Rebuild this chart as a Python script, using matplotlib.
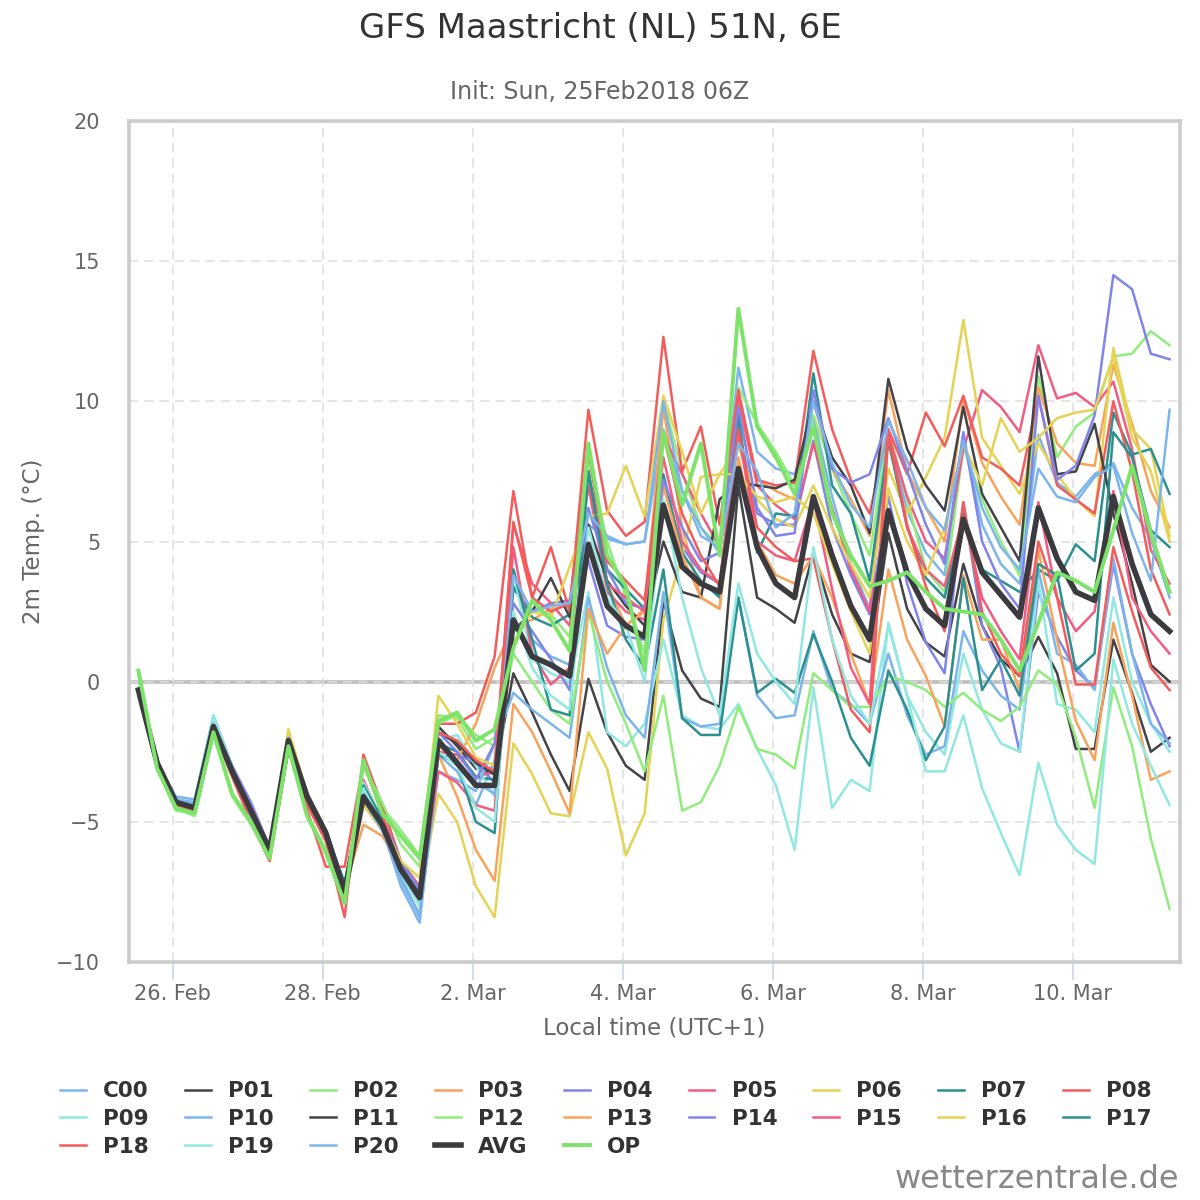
import matplotlib
matplotlib.use("Agg")
import matplotlib.pyplot as plt
import numpy as np

# 2m temperature, GFS ensemble, 6-hourly from 25 Feb 13h local (56 steps)
C00 = [-0.4, -2.9, -4.1, -4.2, -1.2, -3.0, -4.5, -5.9, -2.0, -4.0, -5.4, -7.4, -3.8, -5.2, -7.3, -8.6,
       -2.6, -3.2, -4.4, -2.8, 4.0, 1.5, 0.9, 0.6, 5.6, 5.1, 4.9, 5.0, 9.0, 6.8, 5.2, 4.8,
       11.2, 8.2, 7.6, 7.4, 9.4, 6.6, 4.2, 2.6, 8.9, 6.1, 4.6, 3.8, 8.6, 5.6, 4.2, 3.5,
       8.8, 7.1, 6.6, 7.4, 7.8, 6.2, 5.1, 3.0]
P01 = [-0.3, -2.8, -4.4, -4.6, -1.5, -3.2, -4.6, -6.0, -2.1, -4.1, -5.3, -7.4, -4.2, -5.0, -6.6, -7.6,
       -1.6, -2.3, -3.1, -3.3, 0.3, -1.1, -2.6, -3.9, 0.1, -1.8, -3.0, -3.5, 2.9, 0.4, -0.6, -0.9,
       7.0, 3.0, 2.6, 2.1, 4.6, 2.4, 1.0, 0.7, 5.3, 2.6, 1.4, 0.9, 4.2, 2.0, 0.8, 0.2,
       1.6, 0.3, -2.4, -2.4, 1.5, -0.4, -2.5, -2.0]
P02 = [0.3, -3.0, -4.5, -4.8, -1.9, -4.1, -5.1, -6.3, -2.4, -4.7, -6.0, -7.8, -3.0, -4.5, -5.3, -6.2,
       -1.2, -1.3, -2.4, -2.0, 1.4, 2.6, 2.4, 1.6, 7.9, 5.0, 3.0, 1.0, 10.0, 7.5, 5.5, 4.8,
       10.5, 9.2, 8.2, 7.0, 9.5, 7.6, 6.0, 4.5, 9.0, 6.5, 4.0, 3.2, 8.4, 6.5, 5.0, 3.8,
       10.9, 8.0, 9.1, 9.6, 11.6, 11.7, 12.5, 12.0]
P03 = [-0.4, -3.0, -4.3, -4.5, -1.5, -3.2, -4.6, -6.1, -2.0, -4.2, -5.4, -7.6, -4.3, -5.2, -6.6, -7.5,
       -2.3, -2.8, -1.5, 0.5, 2.0, 2.2, 2.6, 2.7, 7.5, 3.5, 2.0, 2.6, 9.8, 5.5, 3.0, 2.6,
       9.9, 7.2, 6.8, 6.5, 10.0, 7.6, 6.5, 5.2, 10.4, 7.5, 6.2, 5.0, 10.1, 7.8, 6.6, 5.6,
       10.5, 8.5, 7.8, 7.7, 11.3, 9.2, 6.8, 5.5]
P04 = [-0.5, -3.1, -4.2, -4.4, -1.6, -3.0, -4.3, -5.9, -2.0, -4.0, -5.3, -7.2, -3.7, -4.9, -6.5, -7.5,
       -2.7, -2.6, -2.9, -3.6, 3.3, 2.5, 2.8, 2.9, 4.3, 2.0, 1.6, 1.5, 7.0, 4.8, 3.9, 3.5,
       9.0, 6.0, 5.6, 5.6, 8.6, 5.5, 3.8, 2.4, 6.6, 3.5, 1.4, 0.3, 6.4, 2.0, 0.5, -2.5,
       3.2, 1.6, 0.4, -0.2, 4.2, 1.0, -0.8, -2.3]
P05 = [-0.3, -2.9, -4.3, -4.5, -1.7, -3.3, -4.8, -6.2, -2.2, -4.3, -5.6, -7.8, -3.5, -5.0, -6.9, -7.8,
       -2.5, -2.6, -3.4, -3.2, 5.6, 3.5, 2.8, 2.0, 7.0, 3.2, 2.5, 2.2, 8.8, 7.4, 6.0, 4.8,
       10.2, 7.0, 6.3, 5.8, 8.5, 6.2, 4.0, 2.5, 8.8, 6.6, 5.0, 4.4, 8.3, 10.4, 9.8, 8.9,
       12.0, 10.1, 10.3, 9.8, 10.7, 8.3, 4.7, 3.5]
P06 = [-0.4, -3.0, -4.4, -4.6, -1.6, -3.1, -4.5, -6.0, -1.8, -4.2, -5.5, -7.5, -4.4, -5.3, -6.8, -7.7,
       -4.0, -5.0, -7.3, -8.4, -2.2, -3.3, -4.7, -4.8, -1.8, -3.1, -6.2, -4.7, 2.2, 4.5, 7.3, 7.4,
       8.4, 6.5, 5.8, 5.5, 7.0, 5.5, 4.2, 3.0, 7.6, 6.0, 7.3, 8.7, 12.9, 8.7, 7.7, 6.7,
       8.5, 7.4, 6.5, 5.9, 11.9, 9.0, 8.3, 5.2]
P07 = [-0.3, -3.0, -4.3, -4.4, -1.5, -3.2, -4.6, -6.0, -2.1, -4.1, -5.4, -7.2, -4.0, -5.1, -6.7, -7.7,
       -2.2, -2.5, -3.4, -3.5, 3.4, 2.3, 2.0, 2.4, 7.5, 4.0, 3.3, 2.6, 7.4, 4.6, 3.6, 3.0,
       9.5, 4.6, 6.0, 5.9, 11.0, 7.0, 6.0, 3.6, 8.6, 5.5, 3.7, 3.0, 6.0, 4.0, 3.6, 3.2,
       4.0, 3.6, 4.9, 4.3, 9.6, 8.1, 8.3, 6.7]
P08 = [-0.4, -3.0, -4.4, -4.6, -1.6, -3.3, -4.9, -6.3, -2.3, -4.4, -5.7, -8.4, -2.6, -4.4, -6.4, -7.3,
       -1.5, -1.5, -1.1, 0.9, 6.8, 3.0, 4.8, 2.5, 9.7, 6.1, 5.2, 5.7, 12.3, 7.5, 9.1, 5.6,
       10.4, 7.2, 7.0, 7.1, 11.8, 9.0, 7.2, 6.0, 9.0, 7.4, 9.6, 8.4, 10.2, 8.0, 7.6, 7.0,
       10.2, 7.0, 6.5, 6.0, 10.0, 7.5, 4.0, 2.4]
P09 = [-0.2, -2.9, -4.2, -4.3, -1.2, -3.1, -4.6, -6.0, -2.1, -4.1, -5.4, -7.3, -3.6, -4.9, -6.6, -7.8,
       -2.1, -1.9, -3.0, -4.1, 3.9, 0.8, 0.3, 0.0, 3.2, -1.8, -2.3, -1.5, 1.5, -1.2, -1.6, -1.7,
       -0.8, -2.4, -3.7, -6.0, -0.2, -4.5, -3.5, -3.9, 2.1, -0.5, -1.8, -2.6, 1.0, -1.0, -2.2, -2.5,
       3.6, -0.8, -1.0, -1.8, 3.0, 0.0, -1.5, -2.5]
P10 = [-0.4, -3.0, -4.2, -4.3, -1.4, -3.1, -4.5, -5.9, -2.0, -4.0, -5.5, -7.6, -3.9, -5.3, -7.1, -8.4,
       -3.2, -3.5, -3.9, -2.2, -0.4, -1.0, -1.5, -2.0, 3.0, 0.5, -1.2, -2.0, 3.2, -1.3, -1.6, -1.5,
       3.0, -0.5, -1.3, -1.2, 1.8, -0.3, -0.8, -1.5, 1.0, -1.2, -2.6, -2.3, 1.8, 0.4, -0.5, -1.0,
       4.0, 1.0, 0.6, -0.3, 4.4, 1.0, -1.5, -2.2]
P11 = [-0.3, -3.0, -4.3, -4.5, -1.6, -3.2, -4.6, -6.1, -2.0, -4.1, -5.4, -7.3, -4.0, -5.2, -6.8, -7.8,
       -1.8, -2.2, -2.9, -3.3, 1.8, 2.5, 3.7, 2.3, 5.6, 3.6, 2.7, 2.0, 5.0, 3.2, 3.0, 6.5,
       7.1, 7.0, 6.9, 7.2, 10.0, 8.0, 7.0, 5.3, 10.8, 8.3, 7.0, 6.1, 9.8, 6.7, 5.5, 4.3,
       11.6, 7.4, 7.5, 9.2, 6.0, 3.5, 0.6, 0.0]
P12 = [0.2, -3.1, -4.6, -4.7, -1.8, -4.0, -5.0, -6.2, -2.4, -4.8, -6.0, -7.8, -3.0, -4.3, -5.8, -6.6,
       -1.5, -1.2, -1.9, -2.3, 1.0, 0.0, -1.0, -1.5, 2.5, 0.0, -1.5, -3.2, -0.5, -4.6, -4.3, -3.0,
       -0.9, -2.4, -2.6, -3.1, 0.3, -0.3, -0.9, -0.9, 0.2, 0.0, -0.3, -0.9, -0.4, -1.0, -1.4, -0.9,
       0.4, -0.1, -2.0, -4.5, -0.2, -2.3, -5.6, -8.1]
P13 = [-0.4, -2.9, -4.3, -4.5, -1.6, -3.2, -4.6, -6.0, -2.0, -4.0, -5.3, -7.4, -5.1, -5.5, -6.6, -7.6,
       -2.6, -4.1, -6.0, -7.1, -0.8, -1.8, -3.2, -4.7, 2.6, 1.0, 2.0, 2.5, 7.0, 4.5, 3.0, 2.6,
       8.0, 5.0, 3.8, 3.5, 4.5, 3.0, 1.0, -0.8, 4.0, 1.5, 0.2, -1.6, 3.8, 1.5, 1.5, -0.3,
       4.7, 1.5, -1.4, -2.8, 2.1, -0.5, -3.5, -3.2]
P14 = [-0.4, -3.0, -4.3, -4.5, -1.7, -3.3, -4.8, -6.1, -2.2, -4.2, -5.5, -7.6, -3.9, -4.8, -6.4, -7.4,
       -1.8, -2.5, -3.5, -2.2, 2.8, 1.8, 0.8, -0.3, 6.2, 4.0, 2.8, 2.6, 7.2, 5.5, 4.3, 4.6,
       9.8, 6.2, 5.2, 5.3, 10.4, 7.6, 7.1, 7.4, 9.4, 7.5, 5.6, 4.2, 8.9, 5.0, 3.5, 2.6,
       10.2, 7.2, 7.7, 9.5, 14.5, 14.0, 11.7, 11.5]
P15 = [-0.3, -2.8, -4.2, -4.4, -1.5, -3.1, -4.5, -6.0, -2.0, -4.1, -5.5, -7.5, -4.3, -5.2, -6.7, -7.6,
       -3.2, -3.6, -4.4, -4.6, 4.8, 1.0, -0.1, 0.5, 8.5, 3.5, 3.0, 2.5, 8.0, 5.0, 4.0, 3.5,
       8.9, 5.0, 4.5, 4.3, 6.5, 3.3, 0.5, -0.8, 9.0, 5.5, 4.0, 3.4, 5.9, 3.0, 1.8, 0.8,
       6.4, 3.0, 1.8, 2.5, 6.8, 3.0, 1.8, 1.0]
P16 = [-0.3, -3.1, -4.4, -4.6, -1.5, -3.2, -4.7, -6.1, -1.7, -4.0, -5.5, -7.6, -4.4, -5.0, -6.4, -7.0,
       -0.5, -1.5, -2.7, -3.0, 1.4, 2.5, 2.3, 4.1, 5.9, 6.0, 7.7, 5.9, 10.2, 8.2, 6.0, 7.4,
       7.4, 6.6, 6.4, 6.6, 6.0, 4.2, 2.5, 1.0, 6.9, 5.0, 3.8, 5.5, 8.5, 7.0, 9.4, 8.2,
       8.7, 9.4, 9.6, 9.7, 11.6, 8.7, 7.5, 5.0]
P17 = [-0.4, -3.0, -4.3, -4.5, -1.5, -3.1, -4.6, -6.0, -2.0, -4.1, -5.4, -7.2, -3.7, -4.9, -6.6, -7.6,
       -2.6, -2.9, -5.0, -5.4, 4.0, 1.5, -1.0, -1.2, 7.5, 3.5, 1.5, 0.5, 4.0, -1.3, -1.9, -1.9,
       3.0, -0.4, 0.1, -0.4, 1.7, 0.0, -2.0, -3.0, 0.4, -1.0, -2.8, -1.6, 3.7, -0.3, 0.8, -0.5,
       4.2, 3.8, 0.4, 1.0, 8.9, 8.0, 5.4, 4.8]
P18 = [-0.3, -3.0, -4.4, -4.6, -1.7, -3.4, -5.0, -6.4, -2.4, -4.6, -6.6, -6.6, -2.9, -4.7, -6.8, -7.7,
       -1.8, -2.1, -2.8, -3.2, 5.7, 3.0, 2.5, 2.8, 8.3, 4.3, 3.6, 2.9, 8.8, 6.0, 4.5, 3.4,
       9.0, 5.5, 4.8, 4.3, 4.4, 1.5, -1.0, -1.8, 8.8, 5.6, 3.4, 1.8, 6.4, 2.5, 1.0, 0.2,
       5.0, 3.0, -0.1, -0.1, 4.8, 2.5, 0.5, -0.3]
P19 = [-0.3, -2.9, -4.2, -4.4, -1.3, -3.1, -4.6, -6.0, -2.0, -4.1, -5.5, -7.4, -3.8, -5.1, -6.9, -8.0,
       -2.5, -3.0, -4.5, -5.0, 2.5, 0.5, -0.5, -1.0, 5.5, 3.0, 2.0, 0.0, 6.5, 3.0, 0.5, -1.2,
       3.5, 1.0, 0.0, -0.8, 4.8, 1.5, -0.5, -1.5, 2.0, -0.5, -3.2, -3.2, -1.2, -3.8, -5.4, -6.9,
       -2.9, -5.1, -6.0, -6.5, 0.8, -1.5, -3.0, -4.4]
P20 = [-0.4, -3.0, -4.2, -4.4, -1.5, -3.2, -4.7, -6.1, -2.0, -4.1, -5.5, -7.5, -4.2, -5.3, -7.0, -8.3,
       -2.1, -2.8, -3.6, -4.0, 3.8, 2.5, 2.7, 2.8, 6.0, 5.2, 4.9, 5.0, 10.0, 6.8, 5.5, 4.6,
       8.5, 7.5, 5.5, 6.0, 10.0, 7.8, 6.3, 5.5, 9.3, 7.9, 6.2, 5.4, 8.6, 6.2, 4.8, 4.0,
       7.6, 6.6, 6.4, 7.3, 7.7, 5.3, 3.6, 9.7]
AVG = [-0.3, -2.9, -4.3, -4.5, -1.6, -3.2, -4.6, -6.0, -2.1, -4.1, -5.4, -7.5, -4.1, -5.1, -6.7, -7.7,
       -2.1, -2.9, -3.7, -3.7, 2.2, 0.9, 0.6, 0.2, 4.9, 2.7, 2.0, 1.6, 6.3, 4.1, 3.5, 3.2,
       7.6, 4.8, 3.5, 3.0, 6.6, 4.5, 2.7, 1.5, 6.1, 3.9, 2.6, 2.0, 5.8, 3.9, 3.1, 2.3,
       6.2, 4.4, 3.2, 2.9, 6.6, 4.2, 2.4, 1.8]
OP = [0.4, -3.1, -4.5, -4.7, -1.8, -4.0, -5.0, -6.3, -2.3, -4.8, -6.1, -7.9, -2.8, -4.7, -5.5, -6.3,
      -1.4, -1.1, -2.1, -1.7, 1.2, 2.9, 2.2, 1.1, 8.5, 4.5, 3.4, 0.4, 8.9, 6.3, 8.5, 4.5,
      13.3, 9.1, 8.0, 6.7, 9.1, 6.0, 4.5, 3.4, 3.6, 3.9, 3.2, 2.6, 2.5, 2.4, 1.5, 0.4,
      2.1, 3.9, 3.6, 3.2, 5.4, 7.7, 5.3, 3.2]

names = ['C00', 'P01', 'P02', 'P03', 'P04', 'P05', 'P06', 'P07', 'P08', 'P09',
         'P10', 'P11', 'P12', 'P13', 'P14', 'P15', 'P16', 'P17', 'P18', 'P19',
         'P20', 'AVG', 'OP']
series = [C00, P01, P02, P03, P04, P05, P06, P07, P08, P09,
          P10, P11, P12, P13, P14, P15, P16, P17, P18, P19,
          P20, AVG, OP]

tick_days = [0, 2, 4, 6, 8, 10, 12]
tick_labels = ['26. Feb', '28. Feb', '2. Mar', '4. Mar', '6. Mar', '8. Mar', '10. Mar']

# days since 26 Feb 00h local, first value at 25 Feb 13h
t = -11/24 + 0.25*np.arange(len(AVG))

palette = ['#7cb5ec', '#434348', '#90ed7d', '#f7a35c', '#8085e9',
           '#f15c80', '#e4d354', '#2b908f', '#f45b5b', '#91e8e1']
colors = [palette[k % 10] for k in range(21)] + ['#3a3a3f', '#7ee36a']
widths = [1.8]*21 + [4.0, 2.8]

plt.rcParams['font.family'] = 'DejaVu Sans'
fig = plt.figure(figsize=(12, 12), dpi=100)
ax = fig.add_axes([0.1078, 0.1983, 0.8755, 0.7009])

ax.axhline(0, color='#bdbdbd', lw=2.6, zorder=1)
handles = []
for k in range(len(series)):
    h, = ax.plot(t, series[k], color=colors[k], lw=widths[k], zorder=2+k,
                 solid_joinstyle='round', label=names[k])
    handles.append(h)

ax.set_xlim(-0.579, 13.43)
ax.set_ylim(-10, 20)
ax.set_yticks(np.arange(-10, 21, 5))
ax.set_xticks(tick_days)
ax.set_xticklabels(tick_labels)
ax.grid(True, color='#dedede', lw=1.1, ls=(0, (6, 4)), zorder=0)
for s in ax.spines.values():
    s.set_color('#cccccc')
    s.set_linewidth(2.6)
ax.tick_params(axis='x', length=13, width=1.2, color='#ccd6eb', labelsize=15,
               labelcolor='#666666', pad=3)
ax.tick_params(axis='y', length=0, labelsize=15, labelcolor='#666666', pad=21)

ax.set_xlabel('Local time (UTC+1)', fontsize=16.5, color='#666666', labelpad=9)
ax.set_ylabel('2m Temp. (°C)', fontsize=16.5, color='#666666', labelpad=8)

fig.text(0.5, 0.976, 'GFS Maastricht (NL) 51N, 6E', ha='center', va='center',
         fontsize=24.5, color='#333333')
fig.text(0.5, 0.923, 'Init: Sun, 25Feb2018 06Z', ha='center', va='center',
         fontsize=17, color='#666666')
fig.text(0.983, 0.004, 'wetterzentrale.de', ha='right', va='bottom',
         fontsize=23, color='#888888')

# legend fills column-wise; reorder so it reads row by row
ncol = 9
order = [r*ncol + c for c in range(ncol) for r in range(3) if r*ncol + c < len(handles)]
leg = fig.legend([handles[k] for k in order], [names[k] for k in order],
                 loc='center', bbox_to_anchor=(0.505, 0.0675), ncol=ncol, frameon=False,
                 prop={'size': 15.5, 'weight': 'bold'}, handlelength=1.2,
                 handletextpad=0.8, columnspacing=1.68, labelspacing=0.36)
for txt in leg.get_texts():
    txt.set_color('#333333')

fig.savefig('out.png', dpi=100)
